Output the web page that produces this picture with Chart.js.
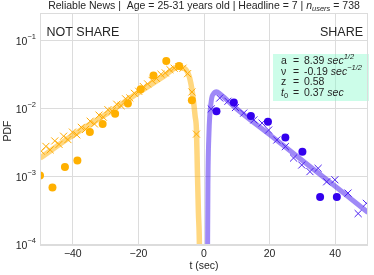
<!DOCTYPE html>
<html>
<head>
<meta charset="utf-8">
<script src="https://cdn.jsdelivr.net/npm/chart.js@4/dist/chart.umd.min.js"></script>
<style>
  html, body { margin: 0; padding: 0; background: #fff; }
  #wrap { width: 374px; height: 275px; }
</style>
</head>
<body>
<div id="wrap"><canvas id="chart" width="374" height="275"></canvas></div>
<script>
// ── Data ─────────────────────────────────────────────────────────────────────
// NOT SHARE side (t < 0): empirical histogram (circles)
const notShareT   = [-50, -46.2, -42.4, -38.6, -34.8, -30.9, -27.1, -23.2, -19.3, -15.4, -11.5, -7.6, -3.7];
const notSharePdf = [1.05e-3, 7.0e-4, 1.4e-3, 1.75e-3, 4.6e-3, 6.0e-3, 8.5e-3, 1.2e-2, 1.95e-2, 3.1e-2, 5.1e-2, 4.3e-2, 1.35e-2];

// NOT SHARE side: simulated points (crosses)
const notShareSimT   = [-49.6, -48.2, -46.9, -45.5, -44.2, -42.8, -41.5, -40.1, -38.8, -37.4, -36.1, -34.7,
                        -33.4, -32.0, -30.7, -29.3, -28.0, -26.6, -25.3, -23.9, -22.6, -21.2, -19.9, -18.5,
                        -17.2, -15.8, -14.5, -13.1, -11.8, -10.4, -9.1, -7.7, -6.4, -5.0, -3.7, -2.3];
const notShareSimPdf = [2.40e-3, 2.82e-3, 2.51e-3, 3.39e-3, 3.02e-3, 3.98e-3, 3.55e-3, 4.57e-3, 4.17e-3, 5.37e-3, 5.01e-3, 6.61e-3,
                        6.03e-3, 8.13e-3, 7.59e-3, 9.77e-3, 9.33e-3, 1.175e-2, 1.12e-2, 1.41e-2, 1.45e-2, 1.70e-2, 1.82e-2, 2.14e-2,
                        2.34e-2, 2.63e-2, 2.82e-2, 3.24e-2, 3.39e-2, 3.80e-2, 3.98e-2, 4.17e-2, 3.98e-2, 3.31e-2, 1.78e-2, 4.27e-3];

// NOT SHARE side: fitted curve
const notShareFitT   = [-50, -40, -30, -20, -12, -8, -6.1, -4.5, -3.5, -2.7, -2.3, -2.0, -1.7, -1.4, -1.2];
const notShareFitPdf = [1.9e-3, 4.1e-3, 8.3e-3, 1.74e-2, 3.1e-2, 4.1e-2, 3.98e-2, 3.0e-2, 1.7e-2, 7.8e-3, 4.9e-3, 1.15e-3, 3e-4, 1e-4, 1e-5];

// SHARE side (t > 0): empirical histogram (circles)
const shareT   = [3.8, 9.1, 14.3, 19.5, 24.8, 30.0, 35.4, 40.5];
const sharePdf = [9.3e-3, 1.25e-2, 7.9e-3, 6.5e-3, 3.8e-3, 2.35e-3, 5.1e-4, 5.1e-4];

// SHARE side: simulated points (crosses)
const shareSimT   = [2.2, 4.8, 7.3, 9.6, 12.1, 15.2, 17.7, 19.7, 22.2, 24.8, 27.3, 29.8, 32.3, 34.8, 37.4, 39.9, 43.9, 47.0, 49.5];
const shareSimPdf = [1.0e-2, 1.45e-2, 1.3e-2, 1.05e-2, 8.7e-3, 6.9e-3, 6.2e-3, 4.9e-3, 3.5e-3, 2.8e-3, 1.9e-3, 1.5e-3,
                     1.2e-3, 1.34e-3, 8.5e-4, 9.1e-4, 5.8e-4, 2.9e-4, 4.1e-4];

// SHARE side: fitted curve
const shareFitT   = [1.0, 1.1, 1.2, 1.5, 2.2, 3.0, 3.8, 5.0, 10, 20, 30, 40, 50];
const shareFitPdf = [1e-5, 1e-4, 7.6e-4, 4.2e-3, 1.3e-2, 1.7e-2, 1.8e-2, 1.65e-2, 1.0e-2, 4.2e-3, 1.75e-3, 7.3e-4, 3.0e-4];

// Axis ticks
const xTicks = [-40, -20, 0, 20, 40];
const yTicks = [1e-4, 1e-3, 1e-2, 1e-1];
const yTickExp = ["\u22124", "\u22123", "\u22122", "\u22121"];

// Fit parameters box
const fitParams = [
  { name: "a",  value: "8.39", unit: "sec", sup: "1/2" },
  { name: "\u03bd", value: "-0.19", unit: "sec", sup: "\u22121/2" },
  { name: "z",  value: "0.58", unit: "", sup: "" },
  { name: "t",  sub: "0", italic: true, value: "0.37", unit: "sec", sup: "" },
];

// ── Styles ───────────────────────────────────────────────────────────────────
const FONT = "'Liberation Sans', Arial, sans-serif";
const TEXT = "#262626";
const GRID = "#dcdcdc";
const ORANGE = "#ffb000";
const ORANGE_X = "#ffaa00";
const ORANGE_LINE = "rgba(255,176,0,0.5)";
const BLUE = "#3300ee";
const BLUE_X = "#4a1ff0";
const BLUE_LINE = "rgba(80,40,240,0.55)";

const pts = (xs, ys) => xs.map((x, i) => ({ x, y: ys[i] }));

// ── Annotation plugin: title, labels, ticks, parameter box ───────────────────
const annotate = {
  id: "annotate",
  afterDraw(chart) {
    const { ctx, chartArea: a, scales } = chart;
    const xs = scales.x, ys = scales.y;
    ctx.save();
    ctx.fillStyle = TEXT;
    ctx.textBaseline = "middle";

    // x tick labels
    ctx.font = `10.5px ${FONT}`;
    ctx.textAlign = "center";
    xTicks.forEach(v => {
      const lbl = v < 0 ? "\u2212" + Math.abs(v) : String(v);
      ctx.fillText(lbl, xs.getPixelForValue(v), a.bottom + 9.5);
    });

    // y tick labels 10^n
    yTicks.forEach((v, i) => {
      const py = ys.getPixelForValue(v);
      ctx.font = `7.5px ${FONT}`;
      const we = ctx.measureText(yTickExp[i]).width;
      ctx.textAlign = "left";
      ctx.fillText(yTickExp[i], a.left - 4 - we, py - 4.5);
      ctx.font = `10.5px ${FONT}`;
      ctx.textAlign = "right";
      ctx.fillText("10", a.left - 4 - we, py + 1.5);
    });

    // axis titles
    ctx.font = `10.5px ${FONT}`;
    ctx.textAlign = "center";
    ctx.fillText("t (sec)", (a.left + a.right) / 2, 266);
    ctx.save();
    ctx.translate(8, (a.top + a.bottom) / 2 + 2);
    ctx.rotate(-Math.PI / 2);
    ctx.fillText("PDF", 0, 0);
    ctx.restore();

    // title with n_users
    const parts = [
      { t: "Reliable News |  Age = 25-31 years old | Headline = 7 | ", f: `10.5px ${FONT}`, dy: 0 },
      { t: "n", f: `italic 10.5px ${FONT}`, dy: 0 },
      { t: "users", f: `italic 7.5px ${FONT}`, dy: 2.5 },
      { t: " = 738", f: `10.5px ${FONT}`, dy: 0 },
    ];
    let total = 0;
    parts.forEach(p => { ctx.font = p.f; p.w = ctx.measureText(p.t).width; total += p.w; });
    let tx = (a.left + a.right) / 2 - total / 2;
    ctx.textAlign = "left";
    parts.forEach(p => { ctx.font = p.f; ctx.fillText(p.t, tx, 6.5 + p.dy); tx += p.w; });

    // side labels
    ctx.font = `12.5px ${FONT}`;
    ctx.textAlign = "left";
    ctx.fillText("NOT SHARE", 46.5, 32.5);
    ctx.textAlign = "right";
    ctx.fillText("SHARE", 363, 32.5);

    // parameter box
    ctx.fillStyle = "rgba(127,250,200,0.4)";
    ctx.fillRect(273, 54, 96, 47);
    ctx.fillStyle = TEXT;
    ctx.textAlign = "left";
    fitParams.forEach((p, i) => {
      const y = 61 + i * 10.8;
      ctx.font = `${p.italic ? "italic " : ""}10.5px ${FONT}`;
      ctx.fillText(p.name, 281, y);
      let nx = 281 + ctx.measureText(p.name).width;
      if (p.sub) {
        ctx.font = `7.5px ${FONT}`;
        ctx.fillText(p.sub, nx, y + 2.5);
      }
      ctx.font = `10.5px ${FONT}`;
      ctx.fillText("=", 293, y);
      let vx = 304;
      ctx.fillText(p.value, vx, y);
      vx += ctx.measureText(p.value + " ").width;
      if (p.unit) {
        ctx.font = `italic 10.5px ${FONT}`;
        ctx.fillText(p.unit, vx, y);
        vx += ctx.measureText(p.unit).width;
      }
      if (p.sup) {
        ctx.font = `italic 7.5px ${FONT}`;
        ctx.fillText(p.sup, vx, y - 4);
      }
    });

    // frame
    ctx.strokeStyle = GRID;
    ctx.lineWidth = 1;
    ctx.strokeRect(a.left + 0.5, a.top + 0.5, a.right - a.left - 1, a.bottom - a.top - 1);
    ctx.restore();
  }
};

// ── Chart ────────────────────────────────────────────────────────────────────
new Chart(document.getElementById("chart"), {
  type: "scatter",
  data: {
    datasets: [
      { label: "not share data", data: pts(notShareT, notSharePdf), pointStyle: "circle",
        pointRadius: 4, backgroundColor: ORANGE, borderColor: ORANGE, borderWidth: 0, order: 1, clip: 0 },
      { label: "share data", data: pts(shareT, sharePdf), pointStyle: "circle",
        pointRadius: 4, backgroundColor: BLUE, borderColor: BLUE, borderWidth: 0, order: 1, clip: 0 },
      { label: "not share sim", data: pts(notShareSimT, notShareSimPdf), pointStyle: "crossRot",
        pointRadius: 5, borderColor: ORANGE_X, borderWidth: 1, order: 2, clip: 0 },
      { label: "share sim", data: pts(shareSimT, shareSimPdf), pointStyle: "crossRot",
        pointRadius: 5, borderColor: BLUE_X, borderWidth: 1, order: 2, clip: 0 },
      { label: "not share fit", data: pts(notShareFitT, notShareFitPdf), showLine: true,
        pointRadius: 0, borderColor: ORANGE_LINE, borderWidth: 5.5, cubicInterpolationMode: "monotone",
        order: 3, clip: 0 },
      { label: "share fit", data: pts(shareFitT, shareFitPdf), showLine: true,
        pointRadius: 0, borderColor: BLUE_LINE, borderWidth: 5, cubicInterpolationMode: "monotone",
        order: 3, clip: 0 },
    ],
  },
  options: {
    responsive: false,
    animation: false,
    layout: { padding: { left: 40, right: 2, top: 13, bottom: 30 } },
    plugins: { legend: { display: false }, tooltip: { enabled: false }, title: { display: false } },
    scales: {
      x: {
        type: "linear", min: -50, max: 50,
        afterBuildTicks: s => { s.ticks = xTicks.map(v => ({ value: v })); },
        ticks: { display: false },
        grid: { color: GRID, lineWidth: 1, drawTicks: false },
        border: { display: false },
      },
      y: {
        type: "logarithmic", min: 1e-4, max: 0.258,
        afterBuildTicks: s => { s.ticks = yTicks.map(v => ({ value: v })); },
        ticks: { display: false },
        grid: { color: GRID, lineWidth: 1, drawTicks: false },
        border: { display: false },
      },
    },
  },
  plugins: [annotate],
});
</script>
</body>
</html>
